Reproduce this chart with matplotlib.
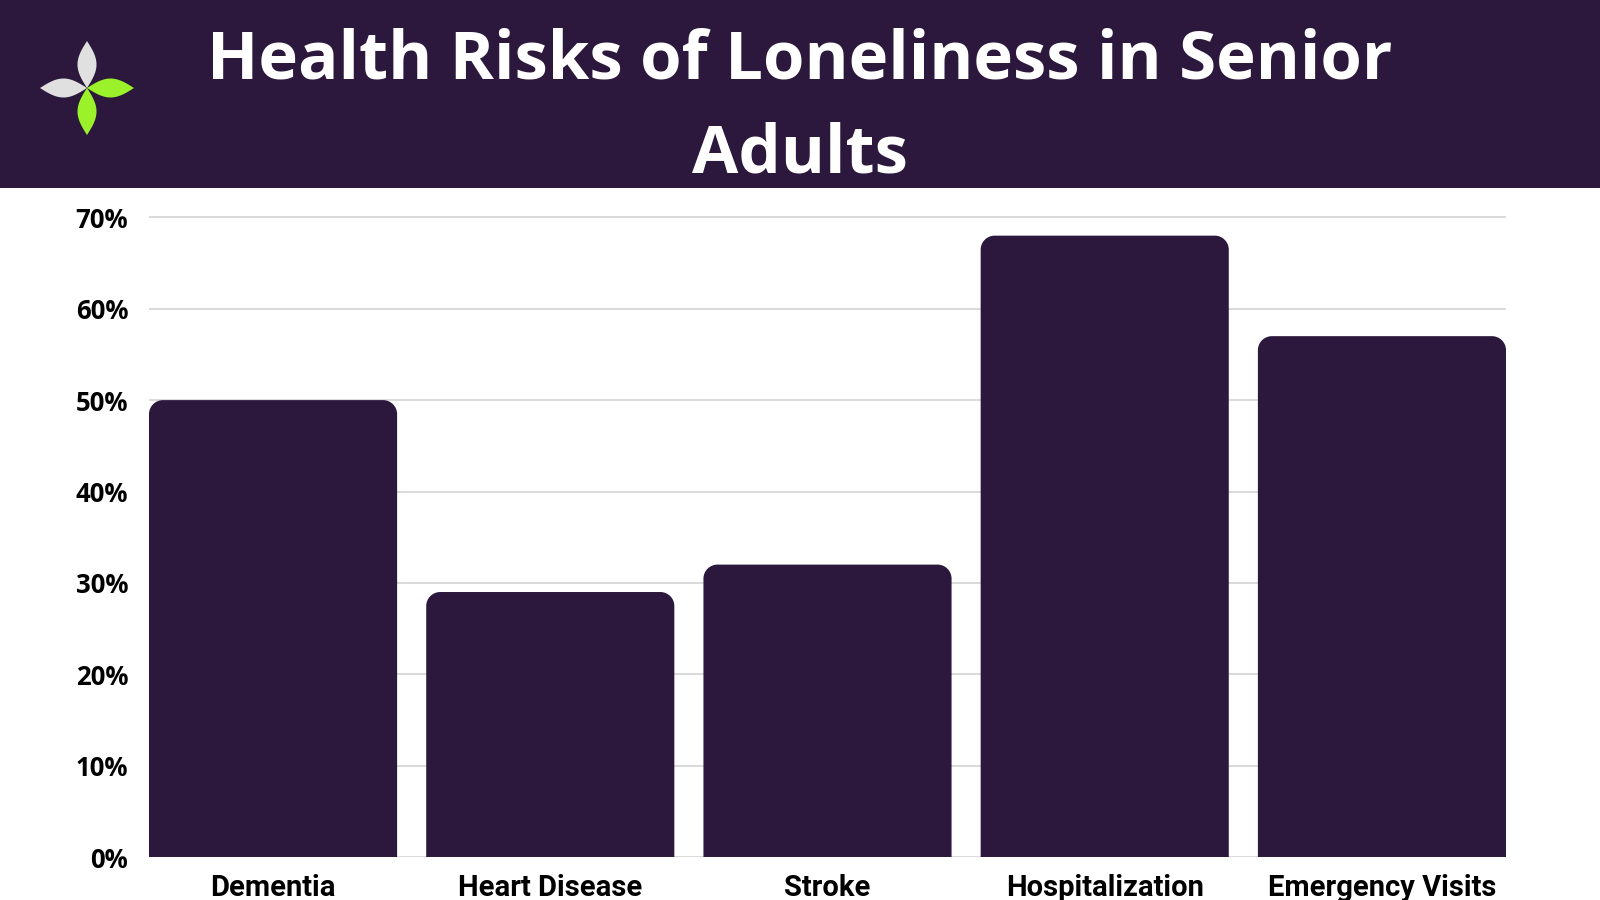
import numpy as np
import matplotlib
matplotlib.use("Agg")
import matplotlib.pyplot as plt
from matplotlib.path import Path
from matplotlib.patches import PathPatch, Polygon, Rectangle
from matplotlib.transforms import IdentityTransform

categories = ["Dementia", "Heart Disease", "Stroke", "Hospitalization", "Emergency Visits"]
values = [50, 29, 32, 68, 57]
yticks = [0, 10, 20, 30, 40, 50, 60, 70]
ytick_labels = ["0%", "10%", "20%", "30%", "40%", "50%", "60%", "70%"]
title = "Health Risks of Loneliness in Senior\nAdults"

purple = "#2b183c"
grid_gray = "#d9d9d9"

fig = plt.figure(figsize=(16, 9), dpi=100)
fig.patch.set_facecolor("white")

# header band
fig.patches.append(Rectangle((0, 1 - 188 / 900), 1, 188 / 900, transform=fig.transFigure,
                             facecolor=purple, edgecolor="none", zorder=-1))
fig.text(0.5, 1 - 108 / 900, title, ha="center", va="center", color="white",
         fontsize=48.3, fontweight="bold", family=["Open Sans", "DejaVu Sans"],
         linespacing=1.52)

# logo: four leaves
lax = fig.add_axes([0, 1 - 188 / 900, 188 / 1600, 188 / 900], zorder=2)
lax.set_xlim(0, 188)
lax.set_ylim(188, 0)
lax.axis("off")
cx, cy = 87, 88
leaf_len, leaf_w = 47, 9.5
leaves = [(-90, "#e0e0e0"), (180, "#e0e0e0"), (0, "#9bf22a"), (90, "#9bf22a")]
t = np.linspace(0, 1, 60)
for ang, col in leaves:
    a = np.deg2rad(ang)
    along = t * leaf_len
    half = leaf_w * np.sin(np.pi * t)
    ux, uy = np.cos(a), np.sin(a)
    px, py = -uy, ux
    xs = np.concatenate([cx + along * ux + half * px, (cx + along * ux - half * px)[::-1]])
    ys = np.concatenate([cy + along * uy + half * py, (cy + along * uy - half * py)[::-1]])
    lax.add_patch(Polygon(np.column_stack([xs, ys]), closed=True, facecolor=col, edgecolor="none"))

# main chart
ax = fig.add_axes([149 / 1600, 43 / 900, 1357 / 1600, 0.731])
x = np.arange(len(categories))
bw = 0.895
bars = ax.bar(x, values, width=bw, color=purple, zorder=3)
ax.set_xlim(-bw / 2, len(categories) - 1 + bw / 2)
ax.set_ylim(0, 72)
ax.set_yticks(yticks)
ax.set_yticklabels(ytick_labels)
ax.set_xticks(x)
ax.set_xticklabels(categories)
for s in ax.spines.values():
    s.set_visible(False)
ax.tick_params(length=0)
ax.tick_params(axis="y", pad=15, labelsize=18.5)
ax.tick_params(axis="x", pad=12, labelsize=21)
for lab in ax.get_yticklabels():
    lab.set_family(["Open Sans", "DejaVu Sans"])
    lab.set_fontweight("bold")
for lab in ax.get_xticklabels():
    lab.set_family(["Liberation Sans Narrow", "Roboto", "DejaVu Sans"])
    lab.set_fontweight("bold")
ax.grid(axis="y", color=grid_gray, linewidth=1.4, zorder=0)
ax.set_axisbelow(True)

# rounded top corners, drawn in pixel space
r = 14
for b in bars:
    (x0, y0), (x1, y1) = ax.transData.transform([(b.get_x(), 0), (b.get_x() + b.get_width(), b.get_height())])
    k = 0.5523 * r
    verts = [(x0, y0), (x0, y1 - r),
             (x0, y1 - r + k), (x0 + r - k, y1), (x0 + r, y1),
             (x1 - r, y1),
             (x1 - r + k, y1), (x1, y1 - r + k), (x1, y1 - r),
             (x1, y0), (x0, y0)]
    codes = [Path.MOVETO, Path.LINETO,
             Path.CURVE4, Path.CURVE4, Path.CURVE4,
             Path.LINETO,
             Path.CURVE4, Path.CURVE4, Path.CURVE4,
             Path.LINETO, Path.CLOSEPOLY]
    fig.patches.append(PathPatch(Path(verts, codes), transform=IdentityTransform(),
                                 facecolor=purple, edgecolor="none", zorder=5))
    b.set_visible(False)

fig.savefig("out.png", dpi=100)
